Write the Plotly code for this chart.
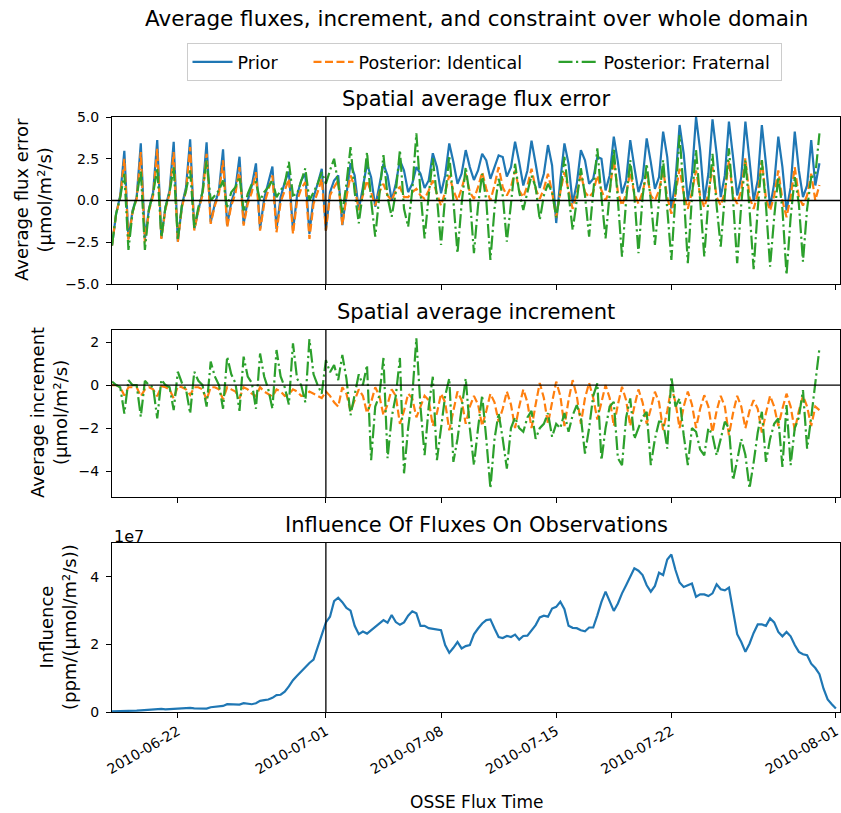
import pandas as pd
import plotly.graph_objects as go

# ---------------- data (6-hourly, starting 2010-06-18 00:00) ----------------
prior = [
    -2.7, -0.8, 0.3, 2.98,
    -2.3, -0.6, 0.2, 3.42,
    -2.3, -0.5, 0.5, 3.62,
    -2.25, -0.4, 0.6, 3.52,
    -2.45, -0.3, 0.8, 3.66,
    -1.7, -0.5, 0.5, 3.48,
    -1.3, -0.2, 0.6, 3.06,
    -1.5, -0.1, 0.7, 2.62,
    -1.4, 0.0, 0.9, 2.22,
    -1.7, 0.1, 1.0, 2.03,
    -1.7, 0.2, 1.1, 1.73,
    -1.8, 0.3, 1.2, 1.6,
    -2.0, 0.2, 1.0, 1.9,
    -1.8, 0.5, 1.2, 1.5,
    -1.47, 0.5, 2.23, 1.5,
    -0.57, 0.8, 2.2, 1.4,
    -0.37, 0.9, 2.2, 1.5,
    0.0, 1.0, 2.42, 1.8,
    0.5, 1.0, 2.0, 1.6,
    0.75, 1.2, 2.83, 2.0,
    0.43, 1.5, 3.42, 2.3,
    1.0, 1.6, 3.02, 2.0,
    1.23, 1.8, 2.8, 2.4,
    1.3, 2.0, 2.7, 2.6,
    1.43, 2.0, 3.52, 2.3,
    0.9, 1.8, 3.58, 2.2,
    0.75, 1.6, 3.32, 2.1,
    -1.35, 1.2, 3.42, 2.2,
    -0.17, 1.0, 3.02, 2.4,
    1.0, 1.3, 2.62, 2.5,
    0.6, 1.5, 3.82, 2.3,
    0.43, 1.2, 3.62, 2.0,
    0.5, 1.3, 3.72, 2.3,
    0.7, 1.4, 4.12, 2.6,
    -0.47, 1.2, 4.52, 2.8,
    0.0, 1.5, 5.0, 3.0,
    0.0, 1.6, 4.86, 2.8,
    0.2, 1.5, 4.72, 2.6,
    0.3, 1.4, 4.72, 2.4,
    0.0, 1.2, 4.52, 2.2,
    -0.4, 1.0, 3.82, 2.0,
    -0.6, 0.8, 4.12, 1.8,
    0.2, 0.9, 3.62, 0.9,
    2.23,
]

post_identical = [
    -2.7, -0.8, 0.2, 2.5,
    -2.4, -0.7, 0.1, 2.9,
    -2.5, -0.6, 0.3, 3.1,
    -2.3, -0.5, 0.4, 2.9,
    -2.5, -0.4, 0.6, 3.2,
    -1.8, -0.6, 0.3, 2.8,
    -1.4, -0.3, 0.4, 2.4,
    -1.6, -0.3, 0.4, 2.0,
    -1.5, -0.2, 0.5, 1.7,
    -1.8, -0.2, 0.6, 1.5,
    -1.9, -0.1, 0.6, 1.3,
    -2.0, 0.0, 0.7, 1.1,
    -2.3, -0.2, 0.5, 1.3,
    -1.8, 0.3, 0.8, 1.2,
    -1.47, 0.2, 1.5, 0.8,
    -0.57, 0.4, 1.2, 0.5,
    -0.3, 0.5, 1.0, 0.3,
    0.0, 0.6, 0.8, 0.2,
    0.2, 0.5, 0.7, 0.3,
    0.1, 0.6, 1.2, 0.4,
    -0.3, 0.5, 1.5, 0.6,
    0.0, 0.7, 1.6, 0.5,
    0.1, 0.8, 1.7, 0.7,
    0.0, 0.9, 2.0, 0.8,
    0.3, 0.8, 1.8, 0.6,
    0.2, 0.9, 1.9, 0.7,
    0.1, 0.7, 1.6, 0.5,
    -1.0, 0.5, 1.7, 0.6,
    -0.5, 0.4, 1.6, 0.5,
    0.2, 0.5, 1.5, 0.6,
    0.0, 0.6, 2.42, 0.5,
    -0.3, 0.4, 1.7, 0.4,
    -0.2, 0.5, 1.6, 0.3,
    0.0, 0.6, 1.8, 0.2,
    -0.8, 0.4, 1.9, 0.4,
    -0.5, 0.5, 1.8, 0.3,
    -0.4, 0.4, 2.0, 0.2,
    -0.3, 0.5, 2.4, 0.3,
    -0.2, 0.6, 2.53, 0.2,
    -0.5, 0.4, 2.42, 0.1,
    -0.6, 0.3, 1.8, 0.0,
    -1.0, 0.2, 2.0, 0.2,
    -0.3, 0.3, 1.6, 0.0,
    0.93,
]

post_fraternal = [
    -2.7, -0.8, 0.2, 1.6,
    -2.96, -0.7, 0.2, 1.83,
    -2.96, -0.5, 0.4, 1.95,
    -2.2, -0.4, 0.5, 1.99,
    -2.3, -0.3, 0.6, 1.8,
    -1.65, -0.4, 0.5, 2.4,
    0.0, 0.3, 0.6, 1.2,
    -0.4, 0.5, 0.8, 1.43,
    -0.6, 0.4, 1.0, 1.1,
    0.0, 0.5, 0.8, 1.2,
    0.2, 0.6, 1.0, 2.32,
    0.3, 0.4, 1.2, 1.93,
    0.0, 0.5, 1.0, 1.7,
    1.0, 1.8, 2.5, 1.0,
    -0.75, 1.0, 3.2, 0.5,
    -1.37, 0.5, 2.9, 0.0,
    -2.17, 0.3, 2.72, 0.2,
    -0.97, 0.5, 3.02, -0.5,
    -1.57, 0.6, 4.02, 0.5,
    -2.27, 0.3, 2.53, 0.2,
    -2.66, 0.2, 2.7, 0.0,
    -3.16, -0.2, 2.0, 0.2,
    -3.16, -0.3, 1.6, 0.0,
    -3.56, -0.5, 1.3, 0.3,
    -2.47, -0.2, 2.2, 0.5,
    -0.57, 0.5, 1.5, 0.8,
    -1.17, 0.3, 1.0, 0.5,
    -1.0, 0.5, 2.62, 0.4,
    -1.77, 0.0, 1.93, 0.3,
    -2.17, 0.5, 3.12, 0.2,
    -2.27, 0.4, 3.12, 0.0,
    -3.36, 0.0, 2.42, 0.3,
    -3.16, 0.2, 2.2, 0.0,
    -2.66, 0.0, 2.42, -0.5,
    -3.56, 0.3, 3.92, 0.5,
    -3.76, 0.2, 3.02, 0.0,
    -3.36, 0.0, 2.8, -0.3,
    -2.77, 0.3, 3.12, 0.0,
    -3.76, -0.2, 2.4, -0.5,
    -4.12, -0.5, 2.42, -0.3,
    -3.96, -1.0, 1.43, -0.5,
    -4.46, -1.0, 1.4, -0.2,
    -3.66, -0.5, 1.4, 1.5,
    4.02,
]

inc_identical = [
    0.0, 0.0, -0.1, -0.48,
    -0.1, -0.1, -0.1, -0.52,
    -0.2, -0.1, -0.2, -0.52,
    -0.05, -0.1, -0.2, -0.62,
    -0.05, -0.1, -0.2, -0.46,
    -0.1, -0.1, -0.2, -0.68,
    -0.1, -0.1, -0.2, -0.66,
    -0.1, -0.2, -0.3, -0.62,
    -0.1, -0.2, -0.4, -0.52,
    -0.1, -0.3, -0.4, -0.53,
    -0.2, -0.3, -0.5, -0.43,
    -0.2, -0.3, -0.5, -0.5,
    -0.3, -0.4, -0.5, -0.6,
    -0.3, -0.5, -0.8, -1.0,
    -0.1, -0.4, -1.2, -0.7,
    -0.2, -0.5, -1.3, -0.8,
    -0.1, -0.5, -1.4, -0.9,
    -0.2, -0.5, -1.8, -1.2,
    -0.4, -0.6, -1.5, -1.0,
    -0.5, -0.7, -1.9, -1.3,
    -0.4, -0.8, -2.1, -1.2,
    -0.3, -0.7, -1.8, -1.0,
    -0.5, -0.9, -1.9, -1.2,
    -0.4, -0.8, -1.7, -1.1,
    -0.3, -0.9, -2.0, -1.0,
    -0.2, -0.8, -2.0, -0.9,
    0.1, -0.6, -1.8, -0.8,
    0.16, -0.5, -1.9, -0.7,
    0.23, -0.5, -1.8, -0.6,
    0.1, -0.6, -1.6, -0.8,
    0.0, -0.6, -1.9, -0.9,
    -0.08, -0.7, -1.9, -1.0,
    -0.2, -0.8, -1.8, -1.1,
    -0.31, -0.8, -2.09, -1.2,
    -0.1, -0.8, -2.0, -1.0,
    -0.3, -0.9, -2.0, -1.1,
    -0.47, -1.0, -2.2, -1.2,
    -0.5, -1.0, -2.33, -1.3,
    -0.5, -1.0, -2.0, -1.2,
    -0.7, -1.1, -2.2, -1.3,
    -0.5, -1.0, -1.9, -1.1,
    -0.4, -1.0, -2.1, -1.2,
    -0.5, -1.0, -1.9, -1.0,
    -1.16,
]

inc_fraternal = [
    0.16, 0.0, -0.1, -1.32,
    0.23, 0.0, 0.0, -1.47,
    0.2, 0.0, -0.1, -1.55,
    0.25, 0.0, -0.1, -1.16,
    0.62, 0.1, -0.2, -1.32,
    0.62, 0.2, 0.0, -1.0,
    1.09, 0.4, 0.0, -1.1,
    1.32, 0.5, 0.1, -1.2,
    1.32, 0.4, 0.1, -1.1,
    1.47, 0.4, -0.2, -1.1,
    1.63, 0.4, -0.1, -0.9,
    1.94, 0.3, 0.0, -0.8,
    2.14, 0.5, 0.0, -0.4,
    1.16, 0.6, 0.93, 0.23,
    1.4, 0.3, -1.4, -0.5,
    0.5, 0.0, 0.93, -3.49,
    -1.0, -0.5, 1.26, -3.4,
    -1.5, -0.5, 1.26, -4.1,
    -2.0, -0.5, 2.17, -1.0,
    -3.26, -1.0, 0.39, -3.49,
    -2.0, -0.5, 0.31, -3.57,
    -2.5, -1.0, 0.31, -2.0,
    -3.72, -2.0, -0.47, -2.5,
    -4.8, -2.5, -1.3, -2.5,
    -3.88, -2.0, -1.5, -2.0,
    -2.17, -1.5, -1.2, -2.5,
    -2.0, -1.8, -1.3, -2.4,
    -1.8, -2.0, -1.3, -2.17,
    -1.4, -0.93, -1.5, -3.18,
    -2.0, -0.5, 0.08, -3.49,
    -2.0, -1.0, -0.78, -3.4,
    -3.72, -1.5, -0.62, -2.5,
    -2.0, -1.5, -1.24, -3.72,
    -2.5, -1.7, -1.7, -2.95,
    0.39, -1.0, -0.62, -2.33,
    -3.72, -2.0, -2.17, -3.0,
    -3.26, -2.0, -2.33, -3.26,
    -2.5, -1.7, -2.0, -4.42,
    -3.5, -2.5, -3.25, -4.8,
    -3.6, -2.2, -1.24, -3.57,
    -2.5, -1.8, -1.55, -3.8,
    -0.93, -3.72, -2.0, -1.5,
    -0.23, -2.95, -1.5, 0.2,
    1.71,
]

# influence, in units of 1e7 ppm/(umol/m2/s)
influence_1e7 = [
    0.02, 0.02, 0.03, 0.03, 0.03, 0.04, 0.04, 0.05, 0.06, 0.07,
    0.07, 0.08, 0.09, 0.08, 0.09, 0.10, 0.11, 0.12, 0.11, 0.12,
    0.11, 0.10, 0.09, 0.10, 0.14, 0.15, 0.16, 0.18, 0.23, 0.22,
    0.22, 0.22, 0.26, 0.24, 0.23, 0.26, 0.33, 0.35, 0.37, 0.42,
    0.50, 0.51, 0.60, 0.76, 0.94, 1.07, 1.20, 1.33, 1.45, 1.55,
    1.95, 2.28, 2.65, 2.82, 3.28, 3.38, 3.25, 3.08, 3.00, 2.55,
    2.30, 2.38, 2.32, 2.42, 2.54, 2.62, 2.72, 2.64, 2.87, 2.66,
    2.58, 2.65, 2.85, 2.98, 2.92, 2.55, 2.55, 2.48, 2.46, 2.42,
    2.42, 1.98, 1.75, 1.90, 2.07, 1.88, 1.95, 1.98, 2.30, 2.47,
    2.62, 2.72, 2.74, 2.47, 2.22, 2.19, 2.25, 2.22, 2.29, 2.14,
    2.25, 2.26, 2.42, 2.57, 2.80, 2.85, 2.82, 3.06, 3.11, 3.26,
    3.04, 2.55, 2.49, 2.48, 2.42, 2.39, 2.50, 2.50, 2.86, 3.26,
    3.56, 3.26, 2.99, 3.21, 3.51, 3.75, 4.00, 4.25, 4.18, 4.05,
    3.75, 3.56, 3.73, 4.12, 4.05, 4.51, 4.66, 4.20, 3.83, 3.70,
    3.75, 3.80, 3.41, 3.48, 3.48, 3.43, 3.51, 3.78, 3.63, 3.60,
    3.68, 3.01, 2.30, 2.07, 1.78, 2.02, 2.34, 2.59, 2.59, 2.55,
    2.77, 2.65, 2.37, 2.24, 2.37, 2.24, 1.98, 1.78, 1.71, 1.68,
    1.43, 1.30, 1.12, 0.69, 0.37, 0.23, 0.10,
]

series_names = ["Prior", "Posterior: Identical", "Posterior: Fraternal"]
x_ticks = ["2010-06-22", "2010-07-01", "2010-07-08", "2010-07-15", "2010-07-22", "2010-08-01"]
x_range = ["2010-06-18 00:00", "2010-08-01 06:00"]
split_date = "2010-07-01"

t_flux = pd.date_range("2010-06-18", periods=len(prior), freq="6h")
t_infl = pd.date_range("2010-06-18", periods=len(influence_1e7), freq="6h")

# ---------------- styling ----------------
W, H = 841, 813
FONT = "DejaVu Sans"
C_BLUE, C_ORANGE, C_GREEN = "#1f77b4", "#ff7f0e", "#2ca02c"
LW = 2.2
DASH_ID = "8px,3.5px"
DASH_FR = "14px,3.5px,2.2px,3.5px"
LEGEND_W = [66, 190, 172]


def pxx(x):
    return x / W


def pyy(y):
    return 1 - y / H


fig = go.Figure()

# top panel
fig.add_trace(go.Scatter(x=t_flux, y=prior, name=series_names[0], mode="lines", legendwidth=LEGEND_W[0],
                         line=dict(color=C_BLUE, width=LW), xaxis="x", yaxis="y"))
fig.add_trace(go.Scatter(x=t_flux, y=post_identical, name=series_names[1], mode="lines", legendwidth=LEGEND_W[1],
                         line=dict(color=C_ORANGE, width=LW, dash=DASH_ID), xaxis="x", yaxis="y"))
fig.add_trace(go.Scatter(x=t_flux, y=post_fraternal, name=series_names[2], mode="lines", legendwidth=LEGEND_W[2],
                         line=dict(color=C_GREEN, width=LW, dash=DASH_FR), xaxis="x", yaxis="y"))
# middle panel
fig.add_trace(go.Scatter(x=t_flux, y=inc_identical, name=series_names[1], mode="lines", showlegend=False,
                         line=dict(color=C_ORANGE, width=LW, dash=DASH_ID), xaxis="x2", yaxis="y2"))
fig.add_trace(go.Scatter(x=t_flux, y=inc_fraternal, name=series_names[2], mode="lines", showlegend=False,
                         line=dict(color=C_GREEN, width=LW, dash=DASH_FR), xaxis="x2", yaxis="y2"))
# bottom panel
fig.add_trace(go.Scatter(x=t_infl, y=influence_1e7, name="Influence", mode="lines", showlegend=False,
                         line=dict(color=C_BLUE, width=LW), xaxis="x3", yaxis="y3"))

x_dom = [pxx(112), pxx(840)]
rows = [(117, 284), (330, 497), (543, 712)]

TICKSIZE = 14
axis_common = dict(showline=True, mirror=True, linecolor="black", linewidth=1,
                   showgrid=False, zeroline=False, ticks="outside", ticklen=5,
                   tickwidth=1, tickcolor="black", automargin=False,
                   tickfont=dict(family=FONT, size=TICKSIZE, color="black"))

xa = dict(axis_common, domain=x_dom, type="date", range=x_range,
          tickmode="array", tickvals=x_ticks, ticklabeloverflow="allow")
ya = dict(axis_common, ticklabelstandoff=4)
fig.update_layout(
    xaxis=dict(xa, anchor="y", showticklabels=False),
    xaxis2=dict(xa, anchor="y2", showticklabels=False, matches="x"),
    xaxis3=dict(xa, anchor="y3", matches="x", tickangle=-30, ticktext=x_ticks),
    yaxis=dict(ya, domain=[pyy(rows[0][1]), pyy(rows[0][0])], anchor="x",
               range=[-5, 5], tickmode="array", tickvals=[-5, -2.5, 0, 2.5, 5],
               ticktext=["\u22125.0", "\u22122.5", "0.0", "2.5", "5.0"]),
    yaxis2=dict(ya, domain=[pyy(rows[1][1]), pyy(rows[1][0])], anchor="x2",
                range=[-5.2, 2.56], tickmode="array", tickvals=[-4, -2, 0, 2],
                ticktext=["\u22124", "\u22122", "0", "2"]),
    yaxis3=dict(ya, domain=[pyy(rows[2][1]), pyy(rows[2][0])], anchor="x3",
                range=[0, 5], tickmode="array", tickvals=[0, 2, 4], ticktext=["0", "2", "4"]),
)

shapes = []
for xr, yr in (("x", "y"), ("x2", "y2"), ("x3", "y3")):
    shapes.append(dict(type="line", xref=xr, x0=split_date, x1=split_date,
                       yref=f"{yr} domain", y0=0, y1=1, layer="above",
                       line=dict(color="black", width=1.3)))
for xr, yr in (("x", "y"), ("x2", "y2")):
    shapes.append(dict(type="line", xref=f"{xr} domain", x0=0, x1=1,
                       yref=yr, y0=0, y1=0, layer="above",
                       line=dict(color="black", width=1.3)))

annotations = []


def ann(text, x, y, size, angle=0, xanchor="center", yanchor="middle"):
    annotations.append(dict(text=text, x=pxx(x), y=pyy(y), xref="paper", yref="paper",
                            showarrow=False, textangle=angle, xanchor=xanchor, yanchor=yanchor,
                            font=dict(family=FONT, size=size, color="black")))


ann("Average fluxes, increment, and constraint over whole domain", 477, 18, 21.5)
ann("Spatial average flux error", 476, 99, 21)
ann("Spatial average increment", 476, 312, 21)
ann("Influence Of Fluxes On Observations", 476, 525, 21)
ann("Average flux error<br>(µmol/m²/s)", 33, 200, 18, angle=-90)
ann("Average increment<br>(µmol/m²/s)", 49, 413, 18, angle=-90)
ann("Influence<br>(ppm/(µmol/m²/s))", 58, 627, 18, angle=-90)
ann("1e7", 112, 536, 16, xanchor="left")
ann("OSSE Flux Time", 476, 802, 17)

fig.update_layout(
    width=W, height=H, margin=dict(l=0, r=0, t=0, b=0, autoexpand=False),
    paper_bgcolor="white", plot_bgcolor="white",
    font=dict(family=FONT, size=TICKSIZE, color="black"),
    shapes=shapes, annotations=annotations,
    legend=dict(orientation="h", x=pxx(484), xanchor="center", y=pyy(43), yanchor="top",
                bordercolor="#cccccc", borderwidth=1, bgcolor="white",
                font=dict(family=FONT, size=17.5, color="black"),
                itemwidth=40, tracegroupgap=0),
    showlegend=True,
)

fig.write_html("out.html", config={"displayModeBar": False},
               post_script=["document.body.style.margin='0';document.body.style.padding='0';"])
